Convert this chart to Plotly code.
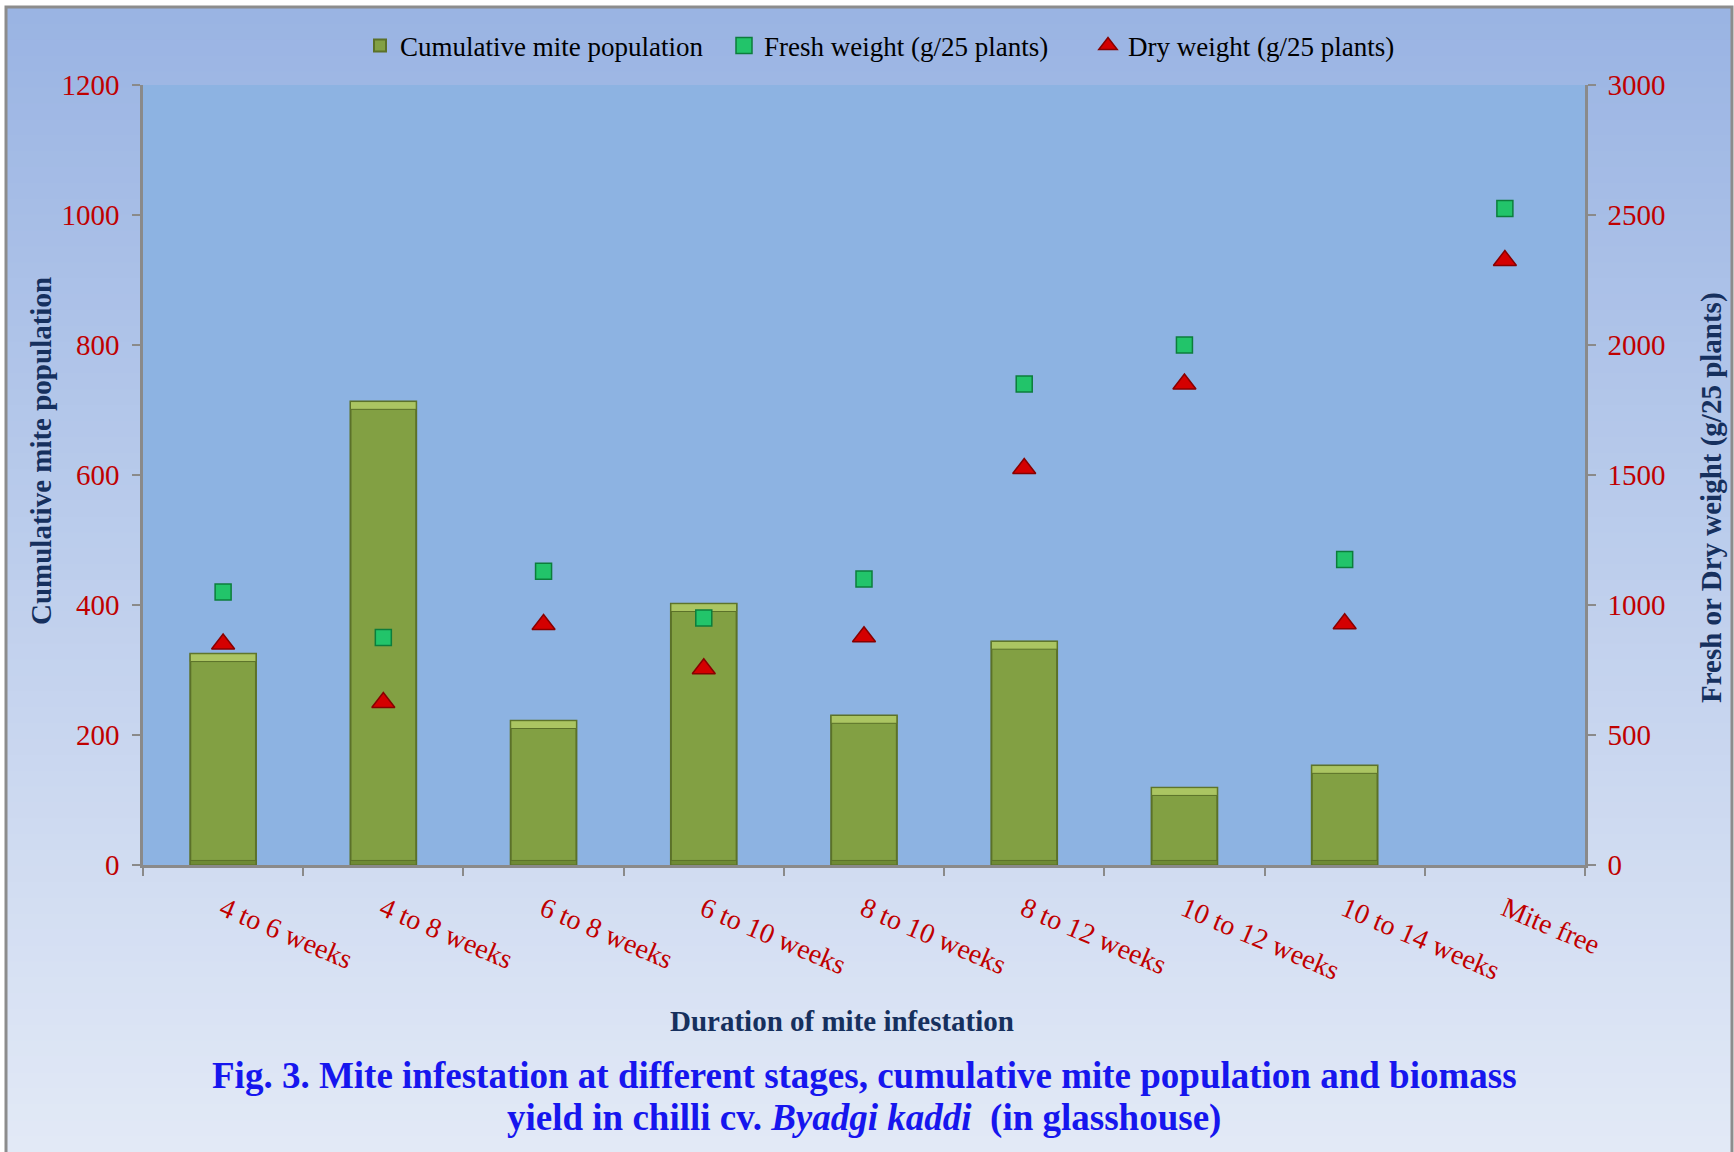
import plotly.graph_objects as go

# ---- data -------------------------------------------------------------
categories = ["4 to 6 weeks", "4 to 8 weeks", "6 to 8 weeks", "6 to 10 weeks",
              "8 to 10 weeks", "8 to 12 weeks", "10 to 12 weeks",
              "10 to 14 weeks", "Mite free"]
mite_population = [325, 713, 222, 402, 230, 344, 119, 153, 0]
fresh_weight = [1050, 875, 1130, 950, 1100, 1850, 2000, 1175, 2525]
dry_weight = [850, 625, 925, 755, 878, 1525, 1850, 928, 2325]

left_ticks = [0, 200, 400, 600, 800, 1000, 1200]
right_ticks = [0, 500, 1000, 1500, 2000, 2500, 3000]

# ---- layout geometry (pixels) ------------------------------------------
W, H = 1734, 1152
ML, MR, MT, MB = 143, 149, 85, 287
PW, PH = W - ML - MR, H - MT - MB

FONT = "Liberation Serif, Times New Roman, serif"
RED = "#c00000"
NAVY = "#16305e"
AXIS_GREY = "#8a8a8a"


def px_x(x):
    return (x - ML) / PW


def px_y(y):
    return (H - MB - y) / PH


def mix(c1, c2, t):
    a = [int(c1[i:i + 2], 16) for i in (1, 3, 5)]
    b = [int(c2[i:i + 2], 16) for i in (1, 3, 5)]
    return "#" + "".join(f"{round(a[k] + (b[k] - a[k]) * t):02x}" for k in range(3))


# background: vertical gradient inside a grey frame
shapes = []
TOP_C, BOT_C = "#9ab4e3", "#e2e9f6"
N = 72
y0, y1 = 8, H
for i in range(N):
    ya = y0 + (y1 - y0) * i / N
    yb = y0 + (y1 - y0) * (i + 1) / N + 1
    shapes.append(dict(type="rect", xref="paper", yref="paper", layer="below",
                       x0=px_x(6), x1=px_x(W - 2), y0=px_y(yb), y1=px_y(ya),
                       fillcolor=mix(TOP_C, BOT_C, i / (N - 1)), line_width=0))
# plot area fill
shapes.append(dict(type="rect", xref="paper", yref="paper", layer="below",
                   x0=0, x1=1, y0=0, y1=1, fillcolor="#8db3e2", line_width=0))
# outer frame
shapes.append(dict(type="rect", xref="paper", yref="paper", layer="above",
                   x0=px_x(6), x1=px_x(W - 2), y0=px_y(H + 10), y1=px_y(7),
                   fillcolor="rgba(0,0,0,0)", line=dict(color="#8c8c8c", width=3)))

BEVEL = 12   # bevel depth in left-axis units
FOOT = 7

bar_vals = [v if v > 0 else None for v in mite_population]

fig = go.Figure()

fig.add_trace(go.Bar(
    x=categories, y=bar_vals, name="Cumulative mite population",
    marker=dict(color="#82a043", line=dict(color="#5b7129", width=2)),
    yaxis="y", showlegend=True,
))
# lighter bevel on the top edge of each bar
fig.add_trace(go.Bar(
    x=categories,
    y=[BEVEL if v else None for v in bar_vals],
    base=[v - BEVEL if v else None for v in bar_vals],
    marker=dict(color="#abc562", line=dict(color="#5b7129", width=1)),
    showlegend=False, hoverinfo="skip",
))
# darker foot of each bar
fig.add_trace(go.Bar(
    x=categories,
    y=[FOOT if v else None for v in bar_vals],
    marker=dict(color="#6e8a34", line=dict(color="#5b7129", width=1)),
    showlegend=False, hoverinfo="skip",
))

fig.add_trace(go.Scatter(
    x=categories, y=fresh_weight, name="Fresh weight (g/25 plants)",
    mode="markers", yaxis="y2",
    marker=dict(symbol="square", size=16, color="#22c46a",
                line=dict(color="#0c7d3c", width=1.5)),
))
fig.add_trace(go.Scatter(
    x=categories, y=dry_weight, name="Dry weight (g/25 plants)",
    mode="markers", yaxis="y2",
    marker=dict(symbol="triangle-up", size=20, color="#d40000",
                line=dict(color="#870000", width=1.5)),
))

axis_common = dict(
    showgrid=False, zeroline=False, showline=True, linecolor=AXIS_GREY,
    linewidth=2.5, ticks="outside", ticklen=8, tickwidth=2, tickcolor=AXIS_GREY,
    automargin=False,
)

title_font = dict(family=FONT, size=37, color="#1616ee")
axis_title_font = dict(family=FONT, size=29, color=NAVY)

fig.update_layout(
    width=W, height=H,
    margin=dict(l=ML, r=MR, t=MT, b=MB, pad=0),
    paper_bgcolor="white", plot_bgcolor="rgba(0,0,0,0)",
    barmode="overlay", bargap=0.59,
    shapes=shapes,
    font=dict(family=FONT, color="black"),
    xaxis=dict(
        **axis_common, type="category", tickson="boundaries",
        tickangle=23, tickfont=dict(family=FONT, size=28, color=RED),
        ticklabelstandoff=14, range=[-0.5, 8.5],
    ),
    yaxis=dict(
        **axis_common, range=[0, 1200], tickvals=left_ticks,
        tickfont=dict(family=FONT, size=29, color=RED), ticklabelstandoff=7,
    ),
    yaxis2=dict(
        **axis_common, range=[0, 3000], tickvals=right_ticks,
        overlaying="y", side="right",
        tickfont=dict(family=FONT, size=29, color=RED), ticklabelstandoff=6,
    ),
    legend=dict(
        orientation="h", x=px_x(906), xanchor="center", y=px_y(46),
        yanchor="middle", bgcolor="rgba(0,0,0,0)",
        font=dict(family=FONT, size=27, color="black"),
        traceorder="normal", entrywidth=319, entrywidthmode="pixels",
    ),
    annotations=[
        dict(text="<b>Cumulative mite population</b>", xref="paper", yref="paper",
             x=px_x(41), y=px_y(451), xanchor="center", yanchor="middle",
             textangle=-90, showarrow=False, font=axis_title_font),
        dict(text="<b>Fresh or Dry weight (g/25 plants)</b>", xref="paper", yref="paper",
             x=px_x(1711), y=px_y(498), xanchor="center", yanchor="middle",
             textangle=-90, showarrow=False, font=axis_title_font),
        dict(text="<b>Duration of mite infestation</b>", xref="paper", yref="paper",
             x=px_x(842), y=px_y(1021), xanchor="center", yanchor="middle",
             showarrow=False, font=axis_title_font),
        dict(text="<b>Fig. 3. Mite infestation at different stages, cumulative mite population and biomass</b>",
             xref="paper", yref="paper", x=px_x(864), y=px_y(1075),
             xanchor="center", yanchor="middle", showarrow=False, font=title_font),
        dict(text="<b>yield in chilli cv. <i>Byadgi kaddi</i>  (in glasshouse)</b>",
             xref="paper", yref="paper", x=px_x(864), y=px_y(1118),
             xanchor="center", yanchor="middle", showarrow=False, font=title_font),
    ],
)

fig.write_html("out.html")
